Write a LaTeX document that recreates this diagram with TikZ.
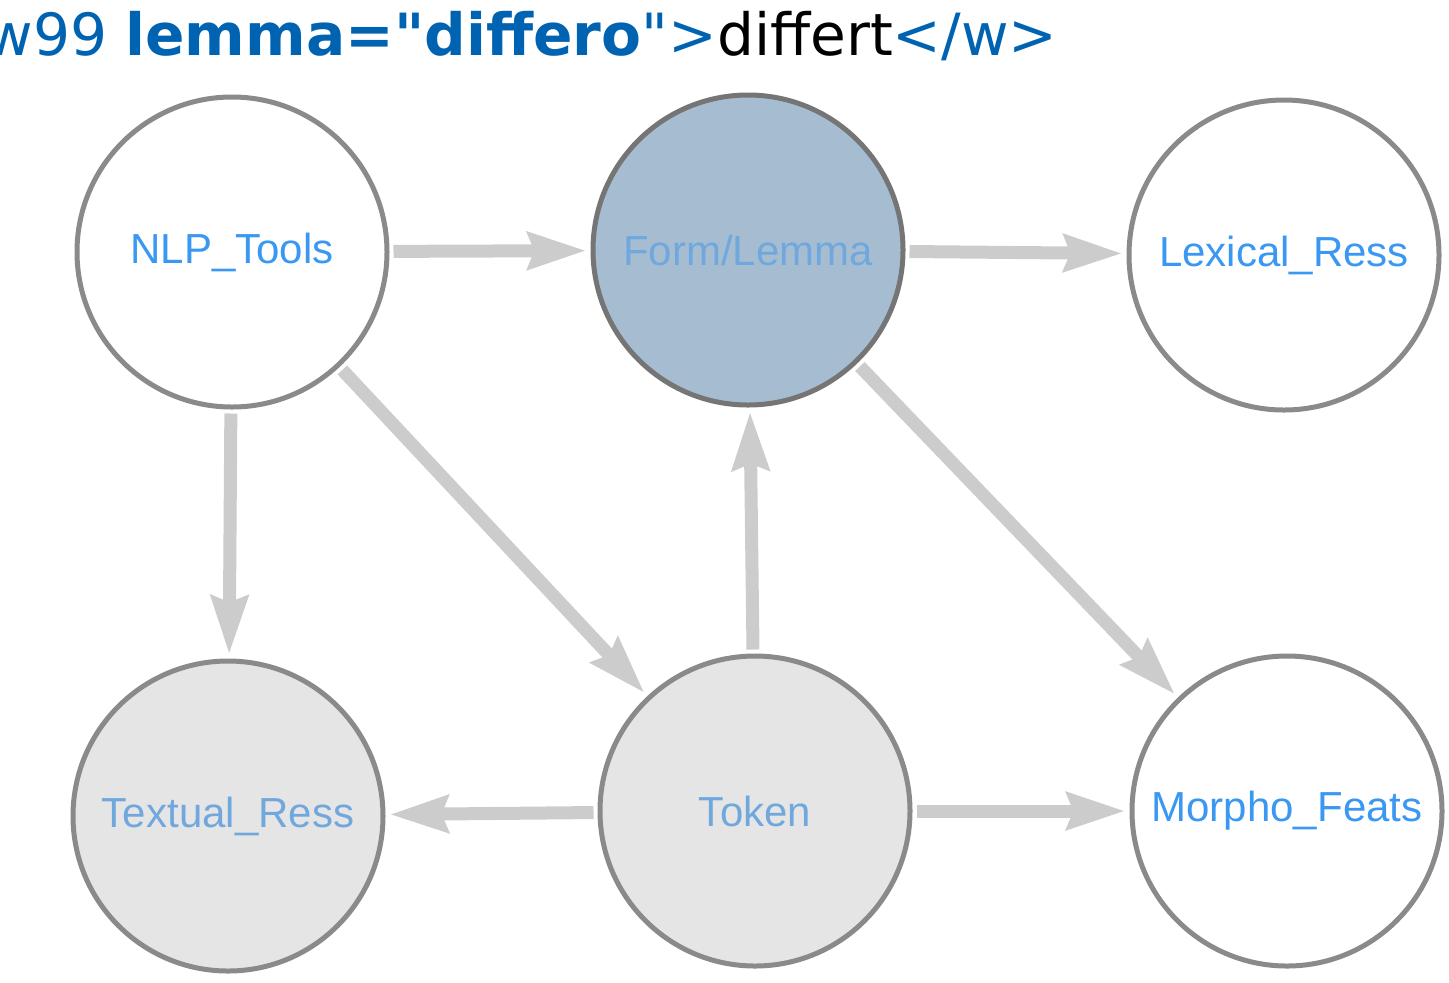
\documentclass[tikz,border=0pt]{standalone}
\usepackage{fontspec}
\usetikzlibrary{arrows.meta}
\newfontfamily\labelfont{Liberation Sans}
\newfontfamily\titlefont{DejaVu Sans}
\definecolor{titleblue}{RGB}{0,99,177}
\definecolor{labelblue}{RGB}{58,152,242}
\definecolor{fadedblue}{RGB}{112,168,222}
\definecolor{rimgray}{RGB}{138,138,138}
\definecolor{formfill}{RGB}{166,189,209}
\definecolor{textfill}{RGB}{229,229,229}
\definecolor{linkgray}{RGB}{204,204,204}
\tikzset{
    entity/.style = {circle,draw=rimgray,line width=2.5pt,minimum size=155pt,inner sep=0pt,
        font=\labelfont\fontsize{21}{25}\selectfont},
    plain/.style = {entity,fill=white,text=labelblue},
    lemmanode/.style = {entity,fill=formfill,draw=rimgray!85!black,text=fadedblue},
    textnode/.style = {entity,fill=textfill,text=fadedblue},
    link/.style = {draw=linkgray,line width=6.5pt,shorten <=2pt,shorten >=2pt,
        -{Stealth[length=29pt,width=18pt,inset=3pt]}}}

\begin{document}
\begin{tikzpicture}[x=0.5pt,y=-0.5pt]
    \useasboundingbox (0,0) rectangle (1449,982);
    \node[anchor=base west,inner sep=0pt,text=titleblue,font=\titlefont\fontsize{29.1}{34}\selectfont] (title) at (-15,55)
        {w99 \textbf{lemma="differo}">\textcolor{black}{differt}</w>};
    \path (232,252) node[plain] (NLPTools) {NLP\_Tools}
        + (516,-2) node[lemmanode] (FormLemma) {Form/Lemma}
        + (1052,3) node[plain] (LexicalRess) {Lexical\_Ress}
        + (-4,564) node[textnode] (TextualRess) {Textual\_Ress}
        + (523,559) node[textnode] (Token) {Token}
        + (1055,559) node[plain] (MorphoFeats) {Morpho\_Feats};
    \draw[link] (NLPTools) -- (FormLemma);
    \draw[link] (FormLemma) -- (LexicalRess);
    \draw[link] (NLPTools) -- (TextualRess);
    \draw[link] (NLPTools) -- (Token);
    \draw[link] (Token) -- (FormLemma);
    \draw[link] (FormLemma) -- (MorphoFeats);
    \draw[link] (Token) -- (TextualRess);
    \draw[link] (Token) -- (MorphoFeats);
\end{tikzpicture}
\end{document}
